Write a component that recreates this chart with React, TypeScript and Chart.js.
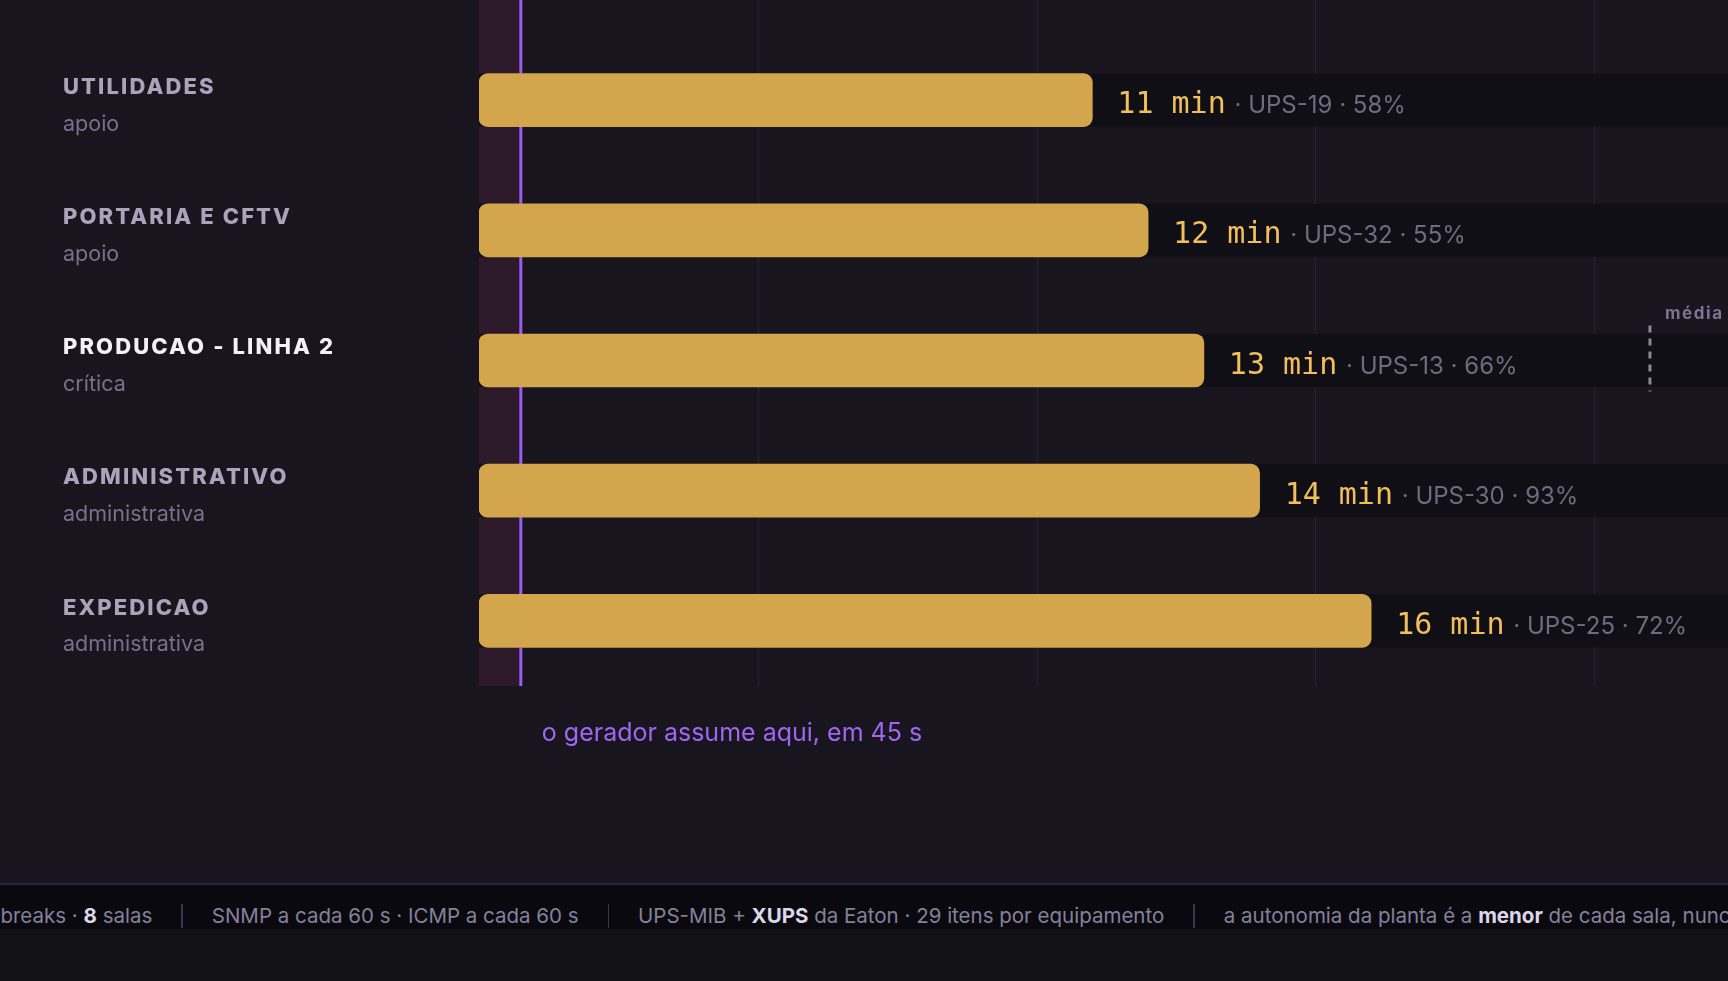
import React, { useEffect, useRef } from 'react';
import { Chart, registerables } from 'chart.js';

Chart.register(...registerables);

// ---- data ----
const categories = ['UTILIDADES', 'PORTARIA E CFTV', 'PRODUCAO - LINHA 2', 'ADMINISTRATIVO', 'EXPEDICAO'];
const classes = ['apoio', 'apoio', 'crítica', 'administrativa', 'administrativa'];
const minutes = [11, 12, 13, 14, 16];
const upsIds = ['UPS-19', 'UPS-32', 'UPS-13', 'UPS-30', 'UPS-25'];
const loadPct = [58, 55, 66, 93, 72];
const gridTicks = [5, 10, 15, 20];
const generatorMin = 0.75; // 45 s
const mediaMin = 21;
const mediaRowIndex = 2;
const xMax = 22.4;
const annotationText = 'o gerador assume aqui, em 45 s';
const mediaLabel = 'média';
const footerItems: { t: string; b?: boolean }[][] = [
  [{ t: 'nobreaks · ' }, { t: '8', b: true }, { t: ' salas' }],
  [{ t: 'SNMP a cada 60 s · ICMP a cada 60 s' }],
  [{ t: 'UPS-MIB + ' }, { t: 'XUPS', b: true }, { t: ' da Eaton · 29 itens por equipamento' }],
  [{ t: 'a autonomia da planta é a ' }, { t: 'menor', b: true }, { t: ' de cada sala, nunca a média' }],
];

const SANS = 'Inter, "Noto Sans", sans-serif';
const MONO = '"DejaVu Sans Mono", "Liberation Mono", monospace';

const W = 1728;
const H = 883;

const decor = {
  id: 'decor',
  beforeDatasetsDraw(chart: any) {
    const { ctx, chartArea, scales } = chart;
    const xs = scales.x;
    const meta = chart.getDatasetMeta(0);
    ctx.save();
    const x0 = xs.getPixelForValue(0);
    const xg = xs.getPixelForValue(generatorMin);
    ctx.fillStyle = '#2c1a2a';
    ctx.fillRect(x0, 0, xg - x0, chartArea.bottom);
    ctx.strokeStyle = '#24212e';
    ctx.lineWidth = 1.5;
    gridTicks.forEach((v) => {
      const x = Math.round(xs.getPixelForValue(v)) + 0.5;
      ctx.beginPath();
      ctx.moveTo(x, 0);
      ctx.lineTo(x, chartArea.bottom);
      ctx.stroke();
    });
    ctx.strokeStyle = '#9a5cf5';
    ctx.lineWidth = 3;
    ctx.beginPath();
    ctx.moveTo(xg, 0);
    ctx.lineTo(xg, chartArea.bottom);
    ctx.stroke();
    ctx.fillStyle = '#110f16';
    meta.data.forEach((el: any) => {
      const h = el.height;
      ctx.fillRect(x0, el.y - h / 2, chart.width - x0, h);
    });
    ctx.restore();
  },
  afterDatasetsDraw(chart: any) {
    const { ctx, chartArea, scales } = chart;
    const xs = scales.x;
    const ys = scales.y;
    const meta = chart.getDatasetMeta(0);
    ctx.save();
    meta.data.forEach((el: any, i: number) => {
      const x = el.x + 25;
      const y = el.y + 13;
      ctx.textBaseline = 'alphabetic';
      ctx.textAlign = 'left';
      ctx.font = `500 30px ${MONO}`;
      ctx.fillStyle = '#f2bf5c';
      const main = `${minutes[i]} min`;
      ctx.fillText(main, x, y);
      const w = ctx.measureText(main).width;
      ctx.font = `400 24px ${SANS}`;
      ctx.fillStyle = '#6e6a80';
      ctx.fillText(` · ${upsIds[i]} · ${loadPct[i]}%`, x + w + 2, y);
    });
    categories.forEach((c, i) => {
      const cy = ys.getPixelForValue(i);
      const critical = classes[i] === 'crítica';
      ctx.textAlign = 'left';
      ctx.textBaseline = 'middle';
      ctx.font = `800 22px ${SANS}`;
      (ctx as any).letterSpacing = '2.1px';
      ctx.fillStyle = critical ? '#f3f1f8' : '#a9a4ba';
      ctx.fillText(c, 63, cy - 13);
      (ctx as any).letterSpacing = '0px';
      ctx.font = `400 21.5px ${SANS}`;
      ctx.fillStyle = '#76728a';
      ctx.fillText(classes[i], 63, cy + 24);
    });
    const xm = xs.getPixelForValue(mediaMin);
    const ym = ys.getPixelForValue(mediaRowIndex);
    ctx.strokeStyle = '#8b8699';
    ctx.lineWidth = 3;
    ctx.setLineDash([7, 6]);
    ctx.beginPath();
    ctx.moveTo(xm, ym - 35);
    ctx.lineTo(xm, ym + 31);
    ctx.stroke();
    ctx.setLineDash([]);
    ctx.font = `700 17px ${SANS}`;
    (ctx as any).letterSpacing = '1.6px';
    ctx.fillStyle = '#7a7590';
    ctx.textBaseline = 'middle';
    ctx.fillText(mediaLabel, xm + 15, ym - 47);
    (ctx as any).letterSpacing = '0px';
    const xg = xs.getPixelForValue(generatorMin);
    ctx.font = `400 25px ${SANS}`;
    ctx.fillStyle = '#a066f2';
    ctx.textBaseline = 'middle';
    ctx.fillText(annotationText, xg + 21, chartArea.bottom + 47);
    ctx.restore();
  },
};

export default function App() {
  const ref = useRef<HTMLCanvasElement | null>(null);
  useEffect(() => {
    document.body.style.margin = '0';
    document.body.style.background = '#121115';
    const canvas = ref.current!;
    const chart = new Chart(canvas, {
      type: 'bar',
      data: {
        labels: categories,
        datasets: [
          {
            data: minutes,
            backgroundColor: '#d3a54c',
            borderRadius: 9,
            borderSkipped: false,
            barThickness: 53,
          },
        ],
      },
      options: {
        indexAxis: 'y',
        animation: false,
        responsive: false,
        devicePixelRatio: 1,
        layout: { padding: { left: 479, right: 0, top: 35, bottom: 197 } },
        plugins: { legend: { display: false }, tooltip: { enabled: false } },
        scales: {
          x: { min: 0, max: xMax, display: false },
          y: { display: false },
        },
      },
      plugins: [decor],
    });
    return () => chart.destroy();
  }, []);

  return (
    <div style={{ width: W, height: 981, overflow: 'hidden', background: '#121115', fontFamily: SANS }}>
      <div style={{ width: W, height: H, background: '#18151f' }}>
        <canvas ref={ref} width={W} height={H} style={{ display: 'block', width: W, height: H }} />
      </div>
      <div style={{ height: 2, background: '#2a2440' }} />
      <div
        style={{
          height: 44,
          boxSizing: 'border-box',
          background: '#0b0910',
          display: 'flex',
          alignItems: 'flex-start',
          paddingTop: 19,
          whiteSpace: 'nowrap',
          overflow: 'hidden',
          fontSize: 20.5,
          lineHeight: '24px',
          color: '#85819a',
        }}
      >
        <div style={{ marginLeft: -24, display: 'flex', alignItems: 'center' }}>
          {footerItems.map((item, i) => (
            <React.Fragment key={i}>
              {i > 0 && (
                <span style={{ display: 'inline-block', width: 1.5, height: 24, background: '#3a3450', margin: '0 29px' }} />
              )}
              <span>
                {item.map((s, j) => (
                  <span key={j} style={s.b ? { fontWeight: 700, color: '#dcd8e8' } : undefined}>
                    {s.t}
                  </span>
                ))}
              </span>
            </React.Fragment>
          ))}
        </div>
      </div>
    </div>
  );
}
